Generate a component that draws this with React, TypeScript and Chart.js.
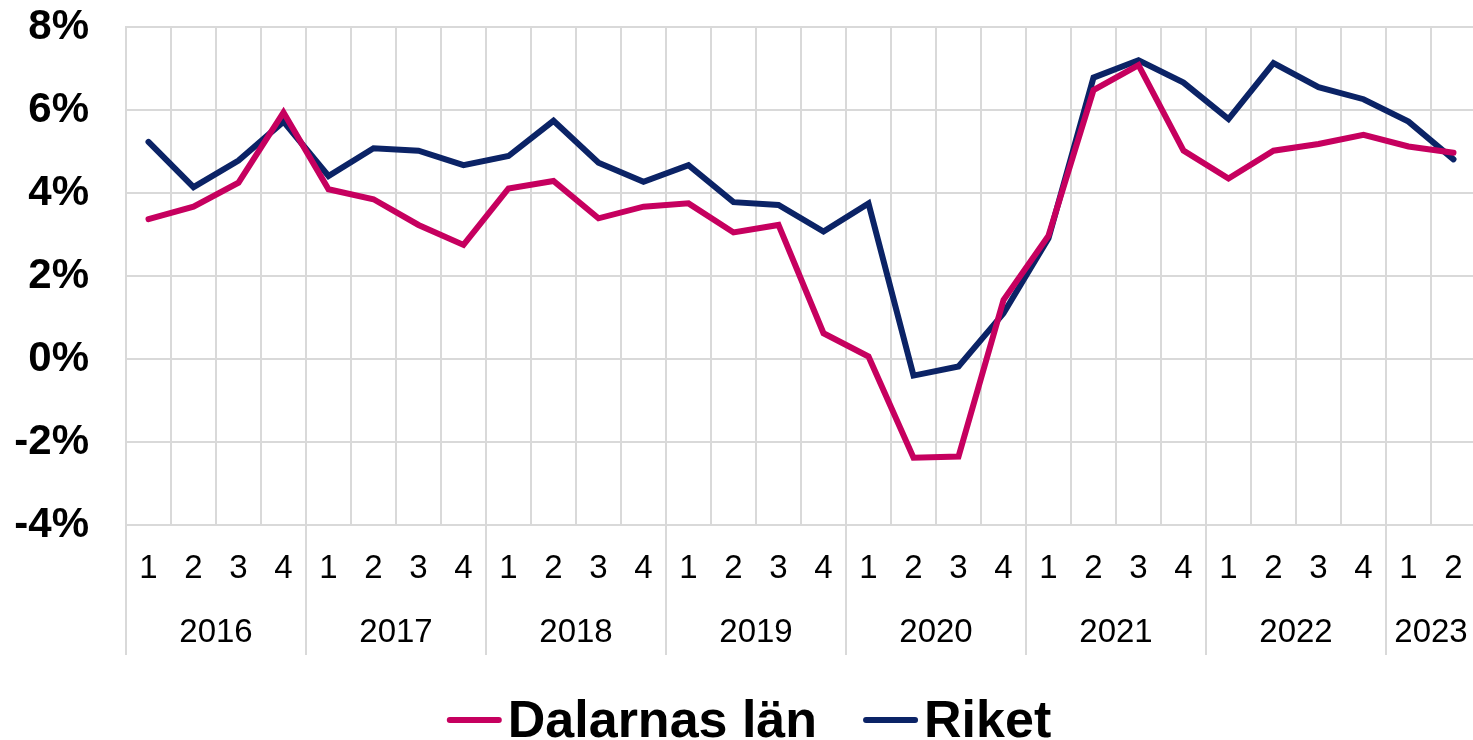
import React, { useEffect, useRef } from 'react';
import { Chart, registerables } from 'chart.js';

Chart.register(...registerables);

const quarterLabels = [
  '1', '2', '3', '4',
  '1', '2', '3', '4',
  '1', '2', '3', '4',
  '1', '2', '3', '4',
  '1', '2', '3', '4',
  '1', '2', '3', '4',
  '1', '2', '3', '4',
  '1', '2',
];
const years = ['2016', '2017', '2018', '2019', '2020', '2021', '2022', '2023'];
const quartersPerYear = [4, 4, 4, 4, 4, 4, 4, 2];

const dalarnasLan = [
  3.37, 3.67, 4.25, 5.94,
  4.09, 3.85, 3.23, 2.75,
  4.11, 4.29, 3.39, 3.67,
  3.75, 3.05, 3.23, 0.62,
  0.06, -2.38, -2.35, 1.42,
  2.97, 6.48, 7.08, 5.02,
  4.35, 5.02, 5.18, 5.40,
  5.12, 4.97,
];
const riket = [
  5.23, 4.14, 4.78, 5.72,
  4.41, 5.08, 5.02, 4.67,
  4.89, 5.74, 4.73, 4.27,
  4.67, 3.78, 3.71, 3.07,
  3.75, -0.40, -0.18, 1.10,
  2.91, 6.78, 7.20, 6.66,
  5.78, 7.13, 6.55, 6.26,
  5.72, 4.81,
];

const yMin = -4;
const yMax = 8;
const yStep = 2;

const seriesNames = ['Dalarnas län', 'Riket'];
const seriesColors = ['#C6005F', '#0B2366'];

const GRID = '#d9d9d9';
const FONT = '"Liberation Sans", Arial, sans-serif';

const yearAxisPlugin = {
  id: 'yearAxis',
  afterDraw(chart: any) {
    const x = chart.scales.x;
    const area = chart.chartArea;
    const ctx = chart.ctx;
    const half = (x.getPixelForValue(1) - x.getPixelForValue(0)) / 2;
    ctx.save();
    ctx.strokeStyle = GRID;
    ctx.lineWidth = 2;
    ctx.fillStyle = '#000';
    ctx.font = `33px ${FONT}`;
    ctx.textAlign = 'center';
    ctx.textBaseline = 'middle';
    let start = 0;
    let lastRight = area.left;
    years.forEach((yr, k) => {
      const n = quartersPerYear[k];
      const left = x.getPixelForValue(start) - half;
      const right = x.getPixelForValue(start + n - 1) + half;
      ctx.beginPath();
      ctx.moveTo(left, area.bottom);
      ctx.lineTo(left, area.bottom + 130);
      ctx.stroke();
      ctx.fillText(yr, (left + right) / 2, area.bottom + 108);
      lastRight = right;
      start += n;
    });
    ctx.beginPath();
    ctx.moveTo(lastRight, area.bottom);
    ctx.lineTo(lastRight, area.bottom + 130);
    ctx.stroke();
    ctx.restore();
  },
};

const legendPlugin = {
  id: 'customLegend',
  afterDraw(chart: any) {
    const ctx = chart.ctx;
    const ds = chart.data.datasets;
    const lineLen = 55;
    const gap = 6;
    const itemGap = 46;
    ctx.save();
    ctx.font = `bold 52px ${FONT}`;
    const widths = ds.map((d: any) => ctx.measureText(d.label).width);
    const total = widths.reduce((a: number, w: number) => a + lineLen + gap + w, 0) + itemGap * (ds.length - 1);
    let cx = 749 - total / 2;
    const cy = 720;
    ds.forEach((d: any, i: number) => {
      ctx.strokeStyle = d.borderColor;
      ctx.lineWidth = 6;
      ctx.lineCap = 'round';
      ctx.beginPath();
      ctx.moveTo(cx + 3, cy);
      ctx.lineTo(cx + lineLen - 3, cy);
      ctx.stroke();
      ctx.fillStyle = '#000';
      ctx.textAlign = 'left';
      ctx.textBaseline = 'alphabetic';
      ctx.fillText(d.label, cx + lineLen + gap, 737);
      cx += lineLen + gap + widths[i] + itemGap;
    });
    ctx.restore();
  },
};

export default function App() {
  const canvasRef = useRef<HTMLCanvasElement | null>(null);

  useEffect(() => {
    if (!canvasRef.current) return;
    Chart.defaults.font.family = FONT;
    const chart = new Chart(canvasRef.current, {
      type: 'line',
      data: {
        labels: quarterLabels,
        datasets: [
          {
            label: seriesNames[0],
            data: dalarnasLan,
            borderColor: seriesColors[0],
            backgroundColor: seriesColors[0],
            borderWidth: 6,
            pointRadius: 0,
            tension: 0,
            borderCapStyle: 'round',
          },
          {
            label: seriesNames[1],
            data: riket,
            borderColor: seriesColors[1],
            backgroundColor: seriesColors[1],
            borderWidth: 6,
            pointRadius: 0,
            tension: 0,
            borderCapStyle: 'round',
          },
        ],
      },
      options: {
        responsive: false,
        animation: false,
        layout: { padding: { top: 0, right: 4, left: 0, bottom: 0 } },
        plugins: {
          legend: { display: false },
          tooltip: { enabled: false },
          title: { display: false },
        },
        scales: {
          x: {
            type: 'category',
            offset: true,
            grid: { offset: true, color: GRID, lineWidth: 2, drawTicks: false },
            border: { color: GRID, width: 2 },
            ticks: {
              autoSkip: false,
              maxRotation: 0,
              padding: 24,
              color: '#000',
              font: { size: 33, family: FONT },
            },
            afterFit: (scale: any) => {
              scale.height = 215;
              scale.paddingLeft = 0;
              scale.paddingRight = 0;
            },
          },
          y: {
            min: yMin,
            max: yMax,
            grid: { color: GRID, lineWidth: 2, drawTicks: false },
            border: { color: GRID, width: 2 },
            ticks: {
              stepSize: yStep,
              padding: 37,
              color: '#000',
              font: { size: 42, weight: 'bold', family: FONT },
              callback: (v: any) => `${v}%`,
            },
            afterFit: (scale: any) => {
              scale.width = 126;
              scale.paddingTop = 27;
              scale.paddingBottom = 0;
            },
          },
        },
      },
      plugins: [yearAxisPlugin, legendPlugin],
    } as any);
    return () => chart.destroy();
  }, []);

  return (
    <div
      style={{
        position: 'fixed',
        left: 0,
        top: 0,
        width: 1473,
        height: 740,
        overflow: 'hidden',
        background: '#fff',
      }}
    >
      <canvas ref={canvasRef} width={1480} height={740} style={{ display: 'block' }} />
    </div>
  );
}
